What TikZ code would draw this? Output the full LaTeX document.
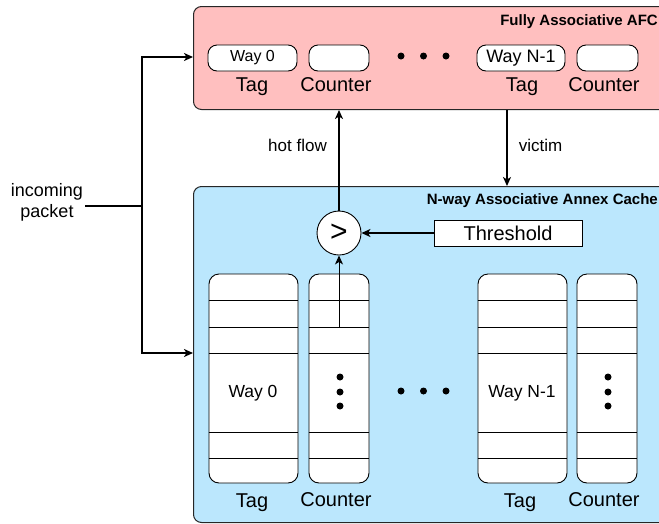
\documentclass[tikz,border=0pt]{standalone}
\usepackage{fontspec}
\setmainfont{Liberation Sans}
\usetikzlibrary{arrows.meta}
\definecolor{afcpink}{HTML}{FFBFBF}
\definecolor{annexblue}{HTML}{BBE7FD}
\begin{document}
\begin{tikzpicture}[x=1pt,y=-1pt,
 region/.style={draw=black!85,line width=1pt,rounded corners=8pt,inner sep=0pt},
 pill/.style={draw,fill=white,rounded corners=9pt,line width=0.9pt,minimum height=26pt,inner sep=0pt,font=\fontsize{16}{18}\selectfont},
 column/.style={draw,fill=white,rounded corners=10pt,line width=0.9pt,minimum height=209pt,inner sep=0pt},
 lbl/.style={font=\fontsize{20}{22}\selectfont,anchor=base,inner sep=0pt},
 conn/.style={line width=1.6pt,-{Stealth[length=9pt,width=8pt,inset=2.5pt]}},
 dotn/.style={circle,fill=black,inner sep=0pt,minimum size=7pt},
 title/.style={anchor=base east,font=\bfseries\fontsize{15}{17}\selectfont,inner sep=0pt},
 flowlbl/.style={font=\fontsize{17}{19}\selectfont,inner sep=0pt}
]
\useasboundingbox (0,0) rectangle (659,523);
\clip (0,0) rectangle (659,523);
% regions
\node[region,fill=afcpink,minimum width=480pt,minimum height=103pt,anchor=north west] (afc) at (193,6) {};
\node[region,fill=annexblue,minimum width=480pt,minimum height=336pt,anchor=north west] (annex) at (193,186) {};
\node[title] (afct) at (658,25) {Fully Associative AFC};
\node[title] (annext) at (658,204) {N-way Associative Annex Cache};
% AFC entries
\node[pill,minimum width=89pt] (w0) at (252.5,58) {Way 0};
\node[pill,minimum width=60pt] (cn0) at (339,58) {};
\node[pill,minimum width=88pt,font=\fontsize{18}{20}\selectfont] (wN) at (521,58) {Way N-1};
\node[pill,minimum width=61pt] (cnN) at (607.5,58) {};
\node[dotn] (td1) at (401,56) {};
\node[dotn] (td2) at (423.5,56) {};
\node[dotn] (td3) at (446,56) {};
\node[lbl] (tagA) at (252,91) {Tag};
\node[lbl] (cntA) at (336,91) {Counter};
\node[lbl] (tagB) at (522,91) {Tag};
\node[lbl] (cntB) at (604,91) {Counter};
% annex columns
\node[column,minimum width=89pt] (tc0) at (253.5,378.5) {};
\node[column,minimum width=60pt] (cc0) at (339,378.5) {};
\node[column,minimum width=89pt] (tcN) at (522.5,378.5) {};
\node[column,minimum width=60pt] (ccN) at (607,378.5) {};
\foreach \c in {tc0,cc0,tcN,ccN}{
  \foreach \yy in {300,327,353,432,458}{
    \draw[line width=0.9pt] (\c.west |- 0,\yy) -- (\c.east |- 0,\yy);
  }
}
\node[font=\fontsize{17.5}{19}\selectfont] (way0) at (253,393) {Way 0};
\node[font=\fontsize{17.5}{19}\selectfont] (wayN) at (522,393) {Way N-1};
\foreach \yy [count=\i] in {377,392,406}{
  \node[dotn] (la\i) at (340,\yy) {};
  \node[dotn] (lb\i) at (608,\yy) {};
}
\node[dotn] (md1) at (401,391) {};
\node[dotn] (md2) at (423.5,391) {};
\node[dotn] (md3) at (446,391) {};
\node[lbl] (tagC) at (252,507) {Tag};
\node[lbl] (cntC) at (336,506) {Counter};
\node[lbl] (tagD) at (520,507) {Tag};
\node[lbl] (cntD) at (604,506) {Counter};
% comparator and threshold
\node[draw,fill=white,circle,minimum size=44pt,inner sep=0pt,line width=0.9pt,font=\fontsize{30}{30}\selectfont] (cmp) at (339,233) {>};
\node[draw,fill=white,minimum width=148pt,minimum height=26pt,inner sep=0pt,line width=0.9pt,font=\fontsize{20}{22}\selectfont] (thr) at (508,233) {Threshold};
\coordinate (cnt) at (339,327);
\draw[conn,line width=1pt] (cnt) -- (cmp.south);
\draw[conn] (thr.west) -- (cmp.east);
\draw[conn] (cmp.north) -- (cmp.north |- afc.south);
\coordinate (vx) at (507,0);
\draw[conn] (afc.south -| vx) -- (annex.north -| vx);
\node[flowlbl] (hf) at (297.5,145) {hot flow};
\node[flowlbl] (vl) at (540.5,145) {victim};
% incoming packet
\node[align=center,font=\fontsize{18}{21}\selectfont,inner sep=2pt] (inc) at (47,202.5) {incoming\\packet};
\coordinate (split) at (142,206);
\draw[line width=1.6pt] (inc.east |- split) -- (split);
\draw[conn] (split) |- (afc.west |- 0,57);
\draw[conn] (split) |- (annex.west |- 0,353);
\end{tikzpicture}
\end{document}
